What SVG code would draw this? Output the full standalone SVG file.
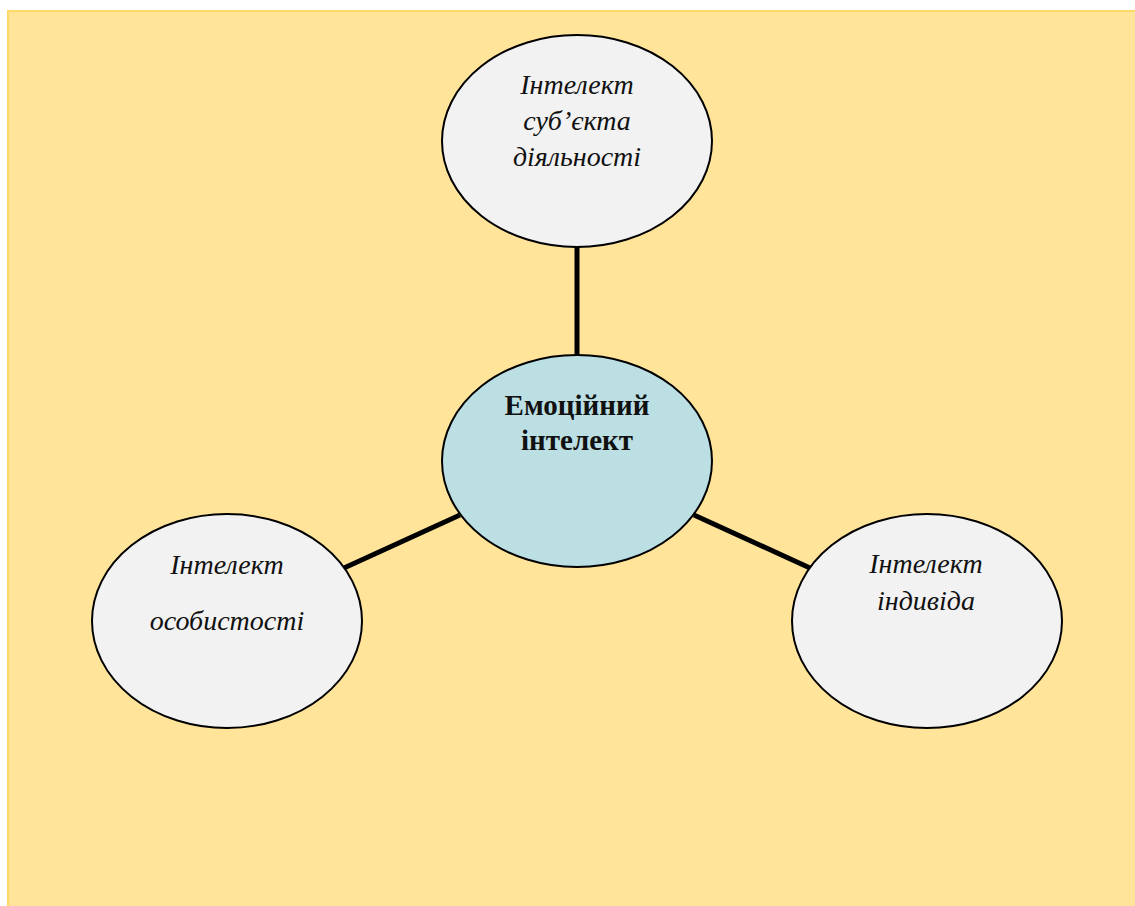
<svg xmlns="http://www.w3.org/2000/svg" width="1135" height="906" viewBox="0 0 1135 906">
<style>
.bg{fill:#FFE499;stroke:#FFD966;stroke-width:2}
.leaf{fill:#F2F2F2;stroke:#000;stroke-width:2}
.core{fill:#BBDFE3;stroke:#000;stroke-width:2}
.it{font-family:"Liberation Serif",serif;font-style:italic;font-size:28px;fill:#111;text-anchor:middle}
.bd{font-family:"Liberation Serif",serif;font-weight:bold;font-size:29px;fill:#111;text-anchor:middle}
.conn line{stroke:#000;stroke-width:5}
</style>
<rect width="1135" height="906" fill="#fff"/>
<rect class="bg" x="8" y="11" width="1140" height="900"/>
<g id="connectors" class="conn">
<line x1="577" y1="247" x2="577" y2="355"/>
<line x1="460" y1="515" x2="344" y2="568"/>
<line x1="694" y1="515" x2="810" y2="568"/>
</g>
<g id="node-top">
<ellipse class="leaf" cx="577" cy="141" rx="135" ry="106"/>
<text class="it" x="577" y="94">Інтелект</text>
<text class="it" x="577" y="130">суб’єкта</text>
<text class="it" x="577" y="166">діяльності</text>
</g>
<g id="node-center">
<ellipse class="core" cx="577" cy="461" rx="135" ry="106"/>
<text class="bd" x="577" y="415">Емоційний</text>
<text class="bd" x="577" y="450">інтелект</text>
</g>
<g id="node-left">
<ellipse class="leaf" cx="227" cy="621" rx="135" ry="107"/>
<text class="it" x="227" y="574">Інтелект</text>
<text class="it" x="227" y="630">особистості</text>
</g>
<g id="node-right">
<ellipse class="leaf" cx="927" cy="621" rx="135" ry="107"/>
<text class="it" x="926" y="573">Інтелект</text>
<text class="it" x="926" y="610">індивіда</text>
</g>
</svg>
